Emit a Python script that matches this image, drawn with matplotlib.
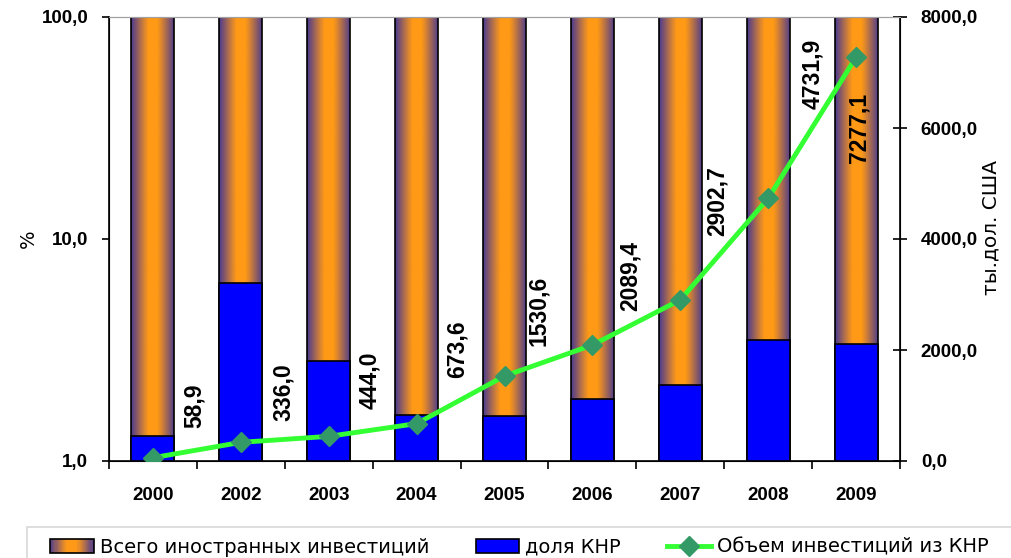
import numpy as np
import matplotlib.pyplot as plt
from matplotlib.patches import Rectangle
from matplotlib.lines import Line2D
from matplotlib.legend_handler import HandlerBase

plt.rcParams['font.family'] = ['Liberation Sans', 'DejaVu Sans']

years = ['2000', '2002', '2003', '2004', '2005', '2006', '2007', '2008', '2009']
total_share = [100, 100, 100, 100, 100, 100, 100, 100, 100]
china_share = [1.3, 6.36, 2.81, 1.61, 1.6, 1.91, 2.21, 3.51, 3.37]
china_volume = [58.9, 336.0, 444.0, 673.6, 1530.6, 2089.4, 2902.7, 4731.9, 7277.1]

# where the value labels sit relative to the points (pixels, up is +)
label_offsets = [(41, 52), (43, 50), (41, 56), (41, 74), (34, 65),
                 (38, 69), (37, 99), (44, 125), (3, -71)]

purple = np.array([0.30, 0.23, 0.56])
orange = np.array([1.0, 0.60, 0.09])


def gradient_colors(n=200):
    t = np.abs(np.linspace(-1, 1, n))
    s = np.clip((t - 0.2) / 0.8, 0, 1) ** 1.1
    return orange[None, :] * (1 - s[:, None]) + purple[None, :] * s[:, None]


grad = gradient_colors()


class GradientHandler(HandlerBase):
    def create_artists(self, legend, orig_handle, xdescent, ydescent,
                       width, height, fontsize, trans):
        arts = []
        n = 40
        for i in range(n):
            c = grad[int((i + 0.5) / n * len(grad))]
            arts.append(Rectangle((-xdescent + i * width / n, -ydescent), width / n + 0.3,
                                  height, facecolor=c, edgecolor='none', transform=trans))
        arts.append(Rectangle((-xdescent, -ydescent), width, height, facecolor='none',
                              edgecolor='black', lw=1.2, transform=trans))
        return arts


fig = plt.figure(figsize=(10.11, 5.58), dpi=100)
ax = fig.add_axes([109 / 1011, 1 - 461 / 558, (900 - 109) / 1011, (461 - 17) / 558])
x = np.arange(len(years))
w = 0.49

ax.set_yscale('log')
tot = ax.bar(x, np.array(total_share) - 1, bottom=1, width=w, facecolor='none',
             edgecolor='black', lw=1.2, zorder=3)
for rect in tot:
    x0 = rect.get_x()
    im = ax.imshow(grad[None, :, :], extent=[x0, x0 + rect.get_width(), 1, 100],
                   aspect='auto', interpolation='bilinear', zorder=2)
    im.set_clip_path(rect)
ax.bar(x, np.array(china_share) - 1, bottom=1, width=w, color='#0000FF',
       edgecolor='black', lw=1.2, zorder=4)

ax.set_xlim(-0.5, len(years) - 0.5)
ax.set_ylim(1, 100)
ax.set_yticks([1, 10, 100])
ax.set_yticklabels(['1,0', '10,0', '100,0'])
ax.minorticks_off()
ax.tick_params(axis='y', direction='out', length=5, width=1.2, pad=10,
               labelsize=13.5)
for lab in ax.get_yticklabels():
    lab.set_fontweight('bold')

ax.set_xticks(np.arange(-0.5, len(years), 1))
ax.set_xticklabels([])
ax.set_xticks(x, minor=True)
ax.set_xticklabels(years, minor=True)
ax.tick_params(axis='x', which='major', direction='out', length=6, width=1.2)
ax.tick_params(axis='x', which='minor', length=0, pad=19, labelsize=13.5)
for lab in ax.get_xticklabels(minor=True):
    lab.set_fontweight('bold')

ax.spines['top'].set_color('#A0A0A0')
ax.spines['left'].set_linewidth(1.2)
ax.spines['bottom'].set_linewidth(1.2)
ax.set_ylabel('%', fontsize=14, family='DejaVu Sans')
ax.yaxis.set_label_coords(-0.09, 0.5)

ax2 = ax.twinx()
ax2.plot(x, china_volume, color='#33FF33', lw=3.5, marker='D', ms=10,
         mfc='#339966', mec='#339966', zorder=5)
ax2.set_ylim(0, 8000)
ax2.set_yticks(np.arange(0, 8001, 2000))
ax2.set_yticklabels([f'{v:.1f}'.replace('.', ',') for v in np.arange(0, 8001, 2000)])
ax2.tick_params(axis='y', direction='inout', length=10, width=1.2, pad=10,
                labelsize=13.5)
for lab in ax2.get_yticklabels():
    lab.set_fontweight('bold')
ax2.spines['right'].set_linewidth(1.2)
ax2.spines['top'].set_color('#A0A0A0')
ax2.set_ylabel('ты.дол. США', fontsize=14.5, family='DejaVu Sans')
ax2.yaxis.set_label_coords(1.103, 0.525)

for xi, v, (dx, dy) in zip(x, china_volume, label_offsets):
    ax2.annotate(f'{v:.1f}'.replace('.', ','), (xi, v), xytext=(dx, dy),
                 textcoords='offset pixels', rotation=90, ha='center', va='center',
                 fontsize=16.5, fontweight='bold', zorder=6)

# legend frame runs off the bottom-right of the picture
fig.patches.append(Rectangle((27 / 1011, -0.1), 1.0, (558 - 527) / 558 + 0.1,
                             transform=fig.transFigure, fill=False,
                             edgecolor='#D8D8D8', lw=1.2))

h1 = Rectangle((0, 0), 1, 1)
h2 = Rectangle((0, 0), 1, 1, facecolor='#0000FF', edgecolor='black', lw=1.2)
h3 = Line2D([], [], color='#33FF33', lw=3.5, marker='D', ms=10,
            mfc='#339966', mec='#339966')
leg = fig.legend([h1, h2, h3],
                 ['Всего иностранных инвестиций', 'доля КНР', 'Объем инвестиций из КНР'],
                 handler_map={h1: GradientHandler()},
                 loc='upper left', bbox_to_anchor=(39.3 / 1011, 1 - 527 / 558), ncol=3,
                 frameon=False,
                 handlelength=2.25, handleheight=0.75, handletextpad=0.3,
                 columnspacing=2.4, borderaxespad=0, borderpad=0.55,
                 prop={'size': 14, 'family': 'DejaVu Sans'})

fig.savefig('out.png', dpi=100)
